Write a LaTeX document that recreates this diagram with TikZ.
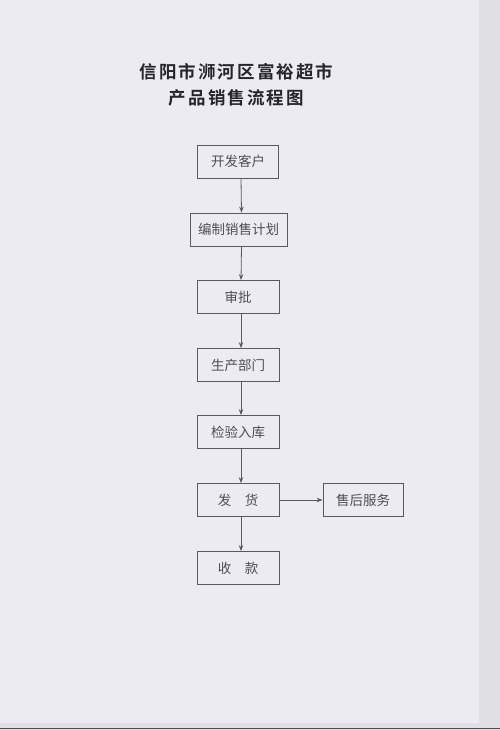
\documentclass[tikz,border=0pt]{standalone}
\usepackage{fontspec}
\usetikzlibrary{arrows.meta}
\newfontfamily\cjktitle[LetterSpace=12]{Noto Sans CJK SC Bold}
\newfontfamily\cjkbox{Noto Sans CJK SC}
\definecolor{paper}{HTML}{ECEBF3}
\definecolor{edgestrip}{HTML}{E0DFE3}
\definecolor{boxline}{HTML}{5A5A5E}
\definecolor{boxtext}{HTML}{4E4E52}
\definecolor{titletext}{HTML}{26262A}
\begin{document}
\begin{tikzpicture}[x=1pt,y=-1pt,
  stepbox/.style={draw=boxline,line width=0.8pt,minimum height=33pt,inner sep=0pt,
    font=\cjkbox\fontsize{13.5pt}{15pt}\selectfont,text=boxtext},
  flow/.style={draw=boxline,line width=0.8pt,-{Stealth[length=6pt,width=4.5pt]}},
  titlestyle/.style={font=\cjktitle\fontsize{17.5pt}{20pt}\selectfont,text=titletext,inner sep=0pt}]
\useasboundingbox (0,0) rectangle (500,730);
\fill[edgestrip] (0,0) rectangle (500,730);
\fill[paper] (0,0) rectangle (479,723);
\draw[black!70,line width=1pt] (0,728.5) -- (500,728.5);
\node[titlestyle] (t1) at (236.5,72) {信阳市浉河区富裕超市};
\node[titlestyle] (t2) at (236.5,98) {产品销售流程图};
\node[stepbox,minimum width=81pt] (n1) at (238,161.5) {开发客户};
\node[stepbox,minimum width=97pt] (n2) at (238.5,229.5) {编制销售计划};
\node[stepbox,minimum width=82pt] (n3) at (238,297) {审批};
\node[stepbox,minimum width=82pt] (n4) at (238,365) {生产部门};
\node[stepbox,minimum width=82pt] (n5) at (238,432) {检验入库};
\node[stepbox,minimum width=82pt] (n6) at (238,500) {发　货};
\node[stepbox,minimum width=80pt] (n8) at (363,500) {售后服务};
\node[stepbox,minimum width=82pt] (n7) at (238,568) {收　款};
\foreach \a/\b in {n1/n2,n2/n3,n3/n4,n4/n5,n5/n6,n6/n7}
  \draw[flow] ([xshift=3pt]\a.south) -- ([xshift=3pt]\b.north);
\draw[flow] (n6.east) -- (n8.west);
\end{tikzpicture}
\end{document}
